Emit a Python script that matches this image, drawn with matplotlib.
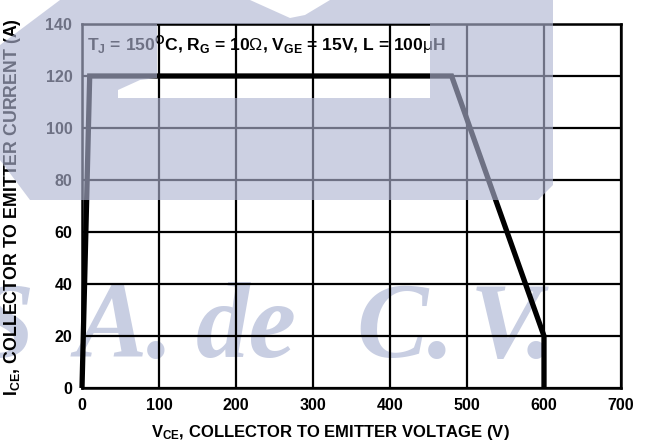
import matplotlib
matplotlib.use("Agg")
import matplotlib.pyplot as plt
from matplotlib.path import Path
from matplotlib.patches import PathPatch

plt.rcParams['font.family'] = ['Liberation Sans', 'DejaVu Sans']
plt.rcParams['mathtext.fontset'] = 'custom'
plt.rcParams['mathtext.rm'] = 'Liberation Sans'
plt.rcParams['mathtext.bf'] = 'Liberation Sans:bold'
plt.rcParams['mathtext.it'] = 'Liberation Sans:italic'

# data
vce = [0, 10, 480, 600, 600]
ice = [0, 120, 120, 20, 0]
xticks = [0, 100, 200, 300, 400, 500, 600, 700]
yticks = [0, 20, 40, 60, 80, 100, 120, 140]
watermark_parts = ["S", "A.", "de", "C.", "V."]

W, H = 654, 448
fig = plt.figure(figsize=(W / 100, H / 100), dpi=100)
fig.patch.set_facecolor('white')
ax = fig.add_axes([82 / W, 1 - 388 / H, (621 - 82) / W, (388 - 24) / H])
ax.set_facecolor('none')


def fx(px):
    return px / W


def fy(py):
    return 1 - py / H


# watermark text behind plot
wm_x = [-26, 76, 196, 356, 470]
for part, px in zip(watermark_parts, wm_x):
    fig.text(fx(px), fy(357), part, fontsize=77, family='Liberation Serif',
             style='italic', weight='bold', color='#c8cee2', zorder=-5,
             va='baseline', ha='left')

ax.set_xlim(0, 700)
ax.set_ylim(0, 140)
ax.set_xticks(xticks)
ax.set_yticks(yticks)
ax.grid(True, color='black', linewidth=1.6)
ax.set_axisbelow(True)
for s in ax.spines.values():
    s.set_linewidth(1.8)
ax.tick_params(length=0, pad=7, labelsize=11.5)
for lab in ax.get_xticklabels() + ax.get_yticklabels():
    lab.set_fontweight('bold')

ax.plot(vce, ice, color='black', linewidth=3.8, clip_on=False, zorder=3,
        solid_joinstyle='miter', solid_capstyle='butt')

fig.text(fx(330), fy(432), r"V$_{\mathbf{CE}}$, COLLECTOR TO EMITTER VOLTAGE (V)",
         fontsize=12, fontweight='bold', ha='center', va='center')
fig.text(fx(13), fy(207), r"I$_{\mathbf{CE}}$, COLLECTOR TO EMITTER CURRENT (A)",
         fontsize=12.8, fontweight='bold', ha='center', va='center', rotation=90)

ax.text(7, 132, r"T$_\mathbf{J}$ = 150$^\mathbf{O}$C, R$_\mathbf{G}$ = 10$\mathrm{\Omega}$, "
        r"V$_\mathbf{GE}$ = 15V, L = 100$\mathrm{\mu}$H",
        fontsize=12.6, fontweight='bold', va='center', ha='left', zorder=4)

# translucent logo overlay (pixel coordinates)
outer = [(60, 0), (250, 0), (290, 18), (305, 15), (330, 0), (553, 0), (553, 185),
         (538, 200), (30, 200), (0, 160), (0, 45), (60, 0)]
hole = [(157, 24), (157, 78), (140, 80), (118, 90), (118, 98), (430, 98),
        (430, 24), (157, 24)]
verts = []
codes = []
for poly in (outer, hole):
    for i, (px, py) in enumerate(poly):
        verts.append((fx(px), fy(py)))
        codes.append(Path.MOVETO if i == 0 else Path.LINETO)
    codes[-1] = Path.CLOSEPOLY
path = Path(verts, codes)
patch = PathPatch(path, transform=fig.transFigure,
                  facecolor=(175 / 255, 181 / 255, 210 / 255),
                  edgecolor='none', alpha=0.63, zorder=20)
fig.patches.append(patch)

fig.savefig("out.png", dpi=100)
